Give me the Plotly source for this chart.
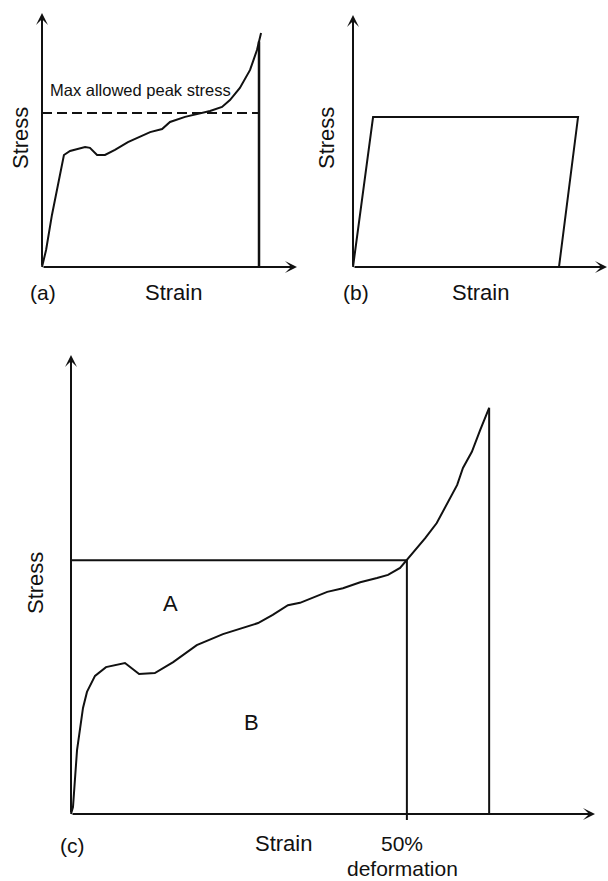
import plotly.graph_objects as go

W, H = 608, 881

# ---------------- data (arbitrary units; each axis arrow = 100) ----------------
# Panel (a): foam stress-strain curve with a max allowed peak stress
a_strain = [0, 1.6, 3.9, 6.3, 8.6, 11.0, 16.9, 18.8, 21.6, 24.7, 28.6, 33.7, 38.4,
            42.4, 47.1, 50.2, 56.1, 62.0, 65.9, 70.6, 73.7, 77.6, 81.6, 84.3, 85.9]
a_stress = [0, 6.7, 20.5, 32.3, 44.1, 45.7, 47.2, 46.9, 44.1, 44.1, 46.1, 49.2, 51.2,
            53.1, 54.3, 57.1, 59.1, 60.6, 61.4, 63.0, 65.7, 70.5, 77.6, 85.4, 92.1]
a_end_strain = 85.1
a_end_stress = 88.8
a_max_allowed = 60.6

# Panel (b): ideal energy absorber
b_strain = [0, 7.9, 88.6, 81.1]
b_stress = [0, 59.5, 59.5, 0]

# Panel (c): curve with 50% deformation point
c_strain = [0, 0.38, 1.15, 2.29, 3.05, 4.58, 6.68, 10.3, 13.0, 16.0, 19.5, 24.0, 29.0,
            32.8, 35.7, 38.5, 41.4, 43.7, 48.9, 51.9, 55.2, 58.4, 60.5, 62.8, 64.1,
            67.6, 69.8, 71.8, 73.7, 74.8, 76.5, 78.1, 79.8]
c_stress = [0, 1.5, 13.9, 23.1, 26.6, 30.1, 32.0, 32.9, 30.5, 30.7, 33.1, 36.8, 39.2,
            40.5, 41.6, 43.4, 45.5, 46.0, 48.4, 49.2, 50.5, 51.4, 52.1, 53.6, 55.3,
            60.1, 63.4, 67.8, 71.7, 75.4, 78.9, 83.7, 88.5]
c_def50_strain = 64.1
c_def50_stress = 55.3
c_tick_below = -1.3
c_end_strain = 79.8
c_end_stress = 88.5

# ---------------- layout helpers ----------------
FONT = "Liberation Sans, Arial, Helvetica, sans-serif"
BLACK = "#111111"

# panel geometry in pixels: origin (ox, oy) and arrow tips (tx, ty)
panels = {
    "a": dict(ox=42, oy=267, tx=297, ty=13, xr=(-3, 100.5), yr=(-3, 100.5)),
    "b": dict(ox=353, oy=267, tx=607, ty=15, xr=(-3, 100.3), yr=(-3, 100.5)),
    "c": dict(ox=71, oy=814, tx=595, ty=355, xr=(-2, 100.5), yr=(-3, 100.5)),
}


def domains(p):
    sx = (p["tx"] - p["ox"]) / 100.0
    sy = (p["oy"] - p["ty"]) / 100.0
    xd = [(p["ox"] + p["xr"][0] * sx) / W, (p["ox"] + p["xr"][1] * sx) / W]
    yd = [1 - (p["oy"] - p["yr"][0] * sy) / H, 1 - (p["oy"] - p["yr"][1] * sy) / H]
    return [max(0, xd[0]), min(1, xd[1])], [max(0, yd[0]), min(1, yd[1])]


def px(x, y):
    return x / W, 1 - y / H


fig = go.Figure()
layout = dict(width=W, height=H, margin=dict(l=0, r=0, t=0, b=0),
              paper_bgcolor="white", plot_bgcolor="white", showlegend=False)

axis_ids = {"a": ("x", "y", "xaxis", "yaxis"),
            "b": ("x2", "y2", "xaxis2", "yaxis2"),
            "c": ("x3", "y3", "xaxis3", "yaxis3")}

for k, p in panels.items():
    xd, yd = domains(p)
    xr_, yr_, xname, yname = axis_ids[k]
    layout[xname] = dict(domain=xd, range=list(p["xr"]), visible=False, fixedrange=True,
                         anchor=yr_)
    layout[yname] = dict(domain=yd, range=list(p["yr"]), visible=False, fixedrange=True,
                         anchor=xr_)

line = dict(color=BLACK, width=2)

# Panel (a)
fig.add_trace(go.Scatter(x=a_strain, y=a_stress, mode="lines", line=line,
                         xaxis="x", yaxis="y"))
fig.add_trace(go.Scatter(x=[a_end_strain, a_end_strain], y=[0, a_end_stress], mode="lines",
                         line=dict(color=BLACK, width=2.5), xaxis="x", yaxis="y"))
fig.add_trace(go.Scatter(x=[0, a_end_strain], y=[a_max_allowed, a_max_allowed], mode="lines",
                         line=dict(color=BLACK, width=2, dash="10px,5px"),
                         xaxis="x", yaxis="y"))

# Panel (b)
fig.add_trace(go.Scatter(x=b_strain, y=b_stress, mode="lines", line=line,
                         xaxis="x2", yaxis="y2"))

# Panel (c)
fig.add_trace(go.Scatter(x=c_strain, y=c_stress, mode="lines", line=line,
                         xaxis="x3", yaxis="y3"))
fig.add_trace(go.Scatter(x=[0, c_def50_strain, c_def50_strain],
                         y=[c_def50_stress, c_def50_stress, c_tick_below],
                         mode="lines", line=line, xaxis="x3", yaxis="y3"))
fig.add_trace(go.Scatter(x=[c_end_strain, c_end_strain], y=[0, c_end_stress], mode="lines",
                         line=line, xaxis="x3", yaxis="y3"))

annotations = []

# axis arrows
for k in panels:
    xr_, yr_, _, _ = axis_ids[k]
    for (tx, ty) in [(100, 0), (0, 100)]:
        annotations.append(dict(x=tx, y=ty, ax=0, ay=0, xref=xr_, yref=yr_,
                                axref=xr_, ayref=yr_, showarrow=True, text="",
                                arrowhead=3, arrowsize=1.0, arrowwidth=2,
                                arrowcolor=BLACK, standoff=0, startstandoff=0))


def label(text, x, y, size=22, angle=0):
    xp, yp = px(x, y)
    annotations.append(dict(text=text, x=xp, y=yp, xref="paper", yref="paper",
                            showarrow=False, xanchor="center", yanchor="middle",
                            textangle=angle, font=dict(family=FONT, size=size, color=BLACK)))


label("Max allowed peak stress", 140, 90, size=16.5)
label("Stress", 20, 138, angle=-90)
label("(a)", 43, 292, size=21)
label("Strain", 173, 292)

label("Stress", 326, 138, angle=-90)
label("(b)", 356, 292, size=21)
label("Strain", 481, 292)

label("Stress", 35, 583, angle=-90)
label("A", 170, 603)
label("B", 251, 722)
label("(c)", 72, 845, size=21)
label("Strain", 283, 843)
label("50%", 402, 843, size=21)
label("deformation", 402, 868, size=21)

layout["annotations"] = annotations
fig.update_layout(**layout)
fig.write_html("out.html")
